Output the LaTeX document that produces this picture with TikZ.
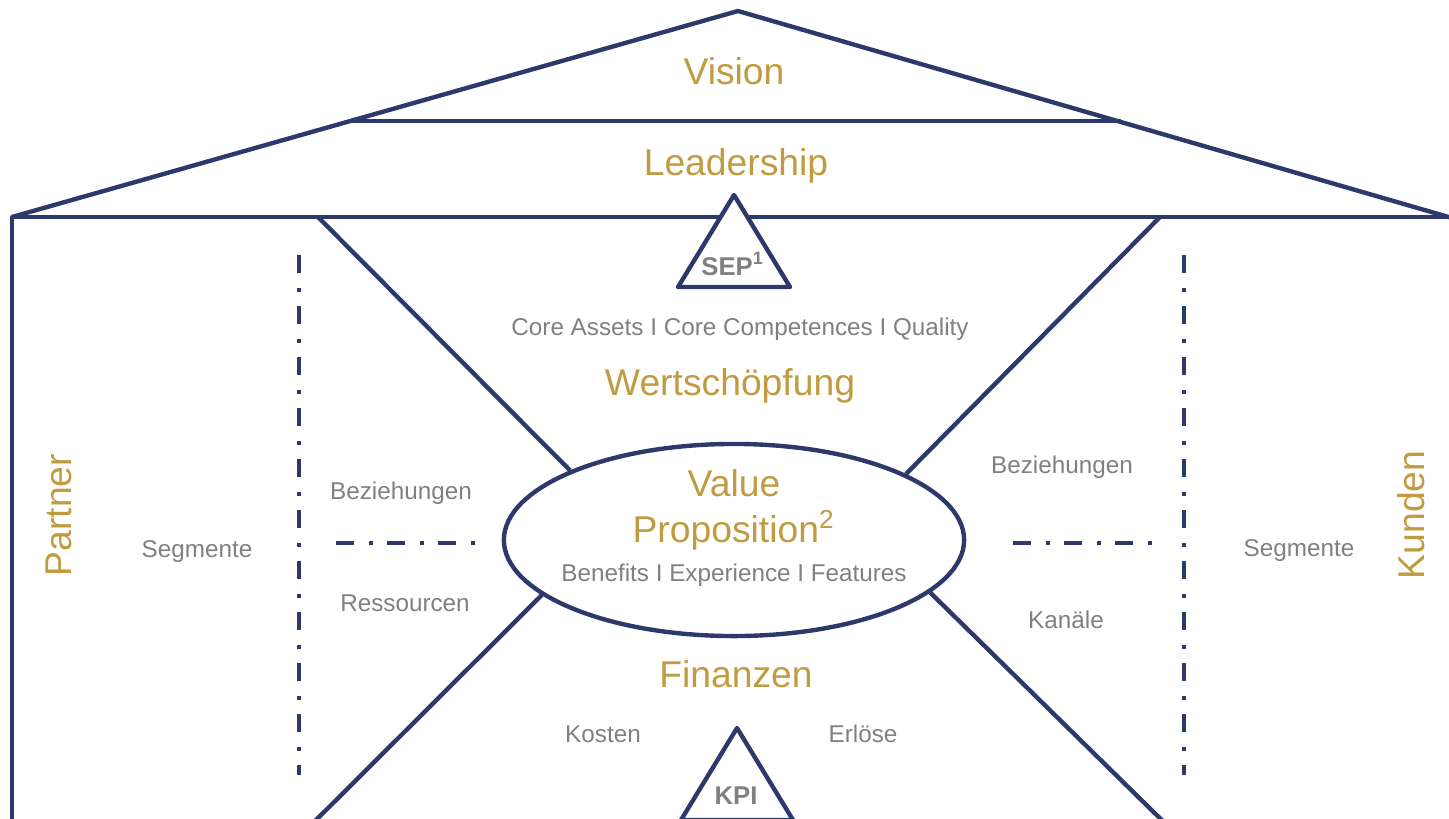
\documentclass[tikz,border=0pt]{standalone}
\usepackage{fontspec}
\setmainfont{Liberation Sans}
\usetikzlibrary{shapes.geometric}
\definecolor{navy}{RGB}{46,57,107}
\definecolor{gold}{RGB}{193,155,64}
\definecolor{textgray}{RGB}{128,128,128}

\begin{document}
\begin{tikzpicture}[
    x=0.01cm, y=-0.01cm, % one unit per pixel of the sketch
    wall/.style={draw=navy, line width=1.25pt, line join=round},
    divider/.style={draw=navy, line width=1.1pt, dash pattern=on 0.18cm off 0.15cm on 0.04cm off 0.14cm},
    heading/.style={text=gold, font=\fontsize{10.6}{12.7}\selectfont},
    note/.style={text=textgray, font=\fontsize{6.9}{8.3}\selectfont},
    badge/.style={text=textgray, font=\bfseries\fontsize{7.3}{8.8}\selectfont}
]
\path[use as bounding box, clip] (0,0) rectangle (1449,818);

% House frame
\draw[wall] (12,217) -- (738,11) -- (1452,218);
\draw[wall] (12,830) -- (12,217) -- (1452,217);
\draw[wall] (350,121) -- (1121,121);

% Value proposition
\node[wall, ellipse, minimum width=4.6cm, minimum height=1.92cm, inner sep=0pt] (vp) at (734,540) {};

% Diagonals
\coordinate (topleft) at (318,217);
\coordinate (topright) at (1160,217);
\coordinate (bottomleft) at (300,836);
\coordinate (bottomright) at (1178,836);
\draw[wall] (topleft) -- (vp.157);
\draw[wall] (topright) -- (vp.21);
\draw[wall] (bottomleft) -- (vp.196);
\draw[wall] (bottomright) -- (vp.345);

% Triangles
\draw[wall, fill=white] (734,195) -- (790,287) -- (678,287) -- cycle;
\draw[wall, fill=white] (737,728) -- (793,820) -- (681,820) -- cycle;

% Dividers
\draw[divider] (299,255) -- (299,775);
\draw[divider] (1184,255) -- (1184,775);
\draw[divider] (336,543) -- (476,543);
\draw[divider] (1013,543) -- (1153,543);

% Roof texts
\node[heading] (vision) at (734,71) {Vision};
\node[heading] (leadership) at (736,166) {Leadership};
\node[badge] (sep) at (733,264) {SEP\textsuperscript{1}};

% Centre texts
\node[note] (core) at (740,329) {Core Assets I Core Competences I Quality};
\node[heading] (wertschoepfung) at (730,386) {Wertschöpfung};
\node[heading] (value) at (734,483) {Value};
\node[heading] (proposition) at (734,530) {Proposition\textsuperscript{2}};
\node[note] (benefits) at (734,575) {Benefits I Experience I Features};
\node[heading] (finanzen) at (736,674) {Finanzen};
\node[note] (kosten) at (603,734) {Kosten};
\node[note] (erloese) at (863,734) {Erlöse};
\node[badge] (kpi) at (736,796) {KPI};

% Partner side
\node[heading, rotate=90] (partner) at (59,515) {Partner};
\node[note] (segmenteleft) at (197,552) {Segmente};
\node[note] (beziehungenleft) at (401,493) {Beziehungen};
\node[note] (ressourcen) at (405,603) {Ressourcen};

% Kunden side
\node[heading, rotate=90] (kunden) at (1411,515) {Kunden};
\node[note] (segmenteright) at (1299,551) {Segmente};
\node[note] (beziehungenright) at (1062,467) {Beziehungen};
\node[note] (kanaele) at (1066,620) {Kanäle};

\end{tikzpicture}
\end{document}
